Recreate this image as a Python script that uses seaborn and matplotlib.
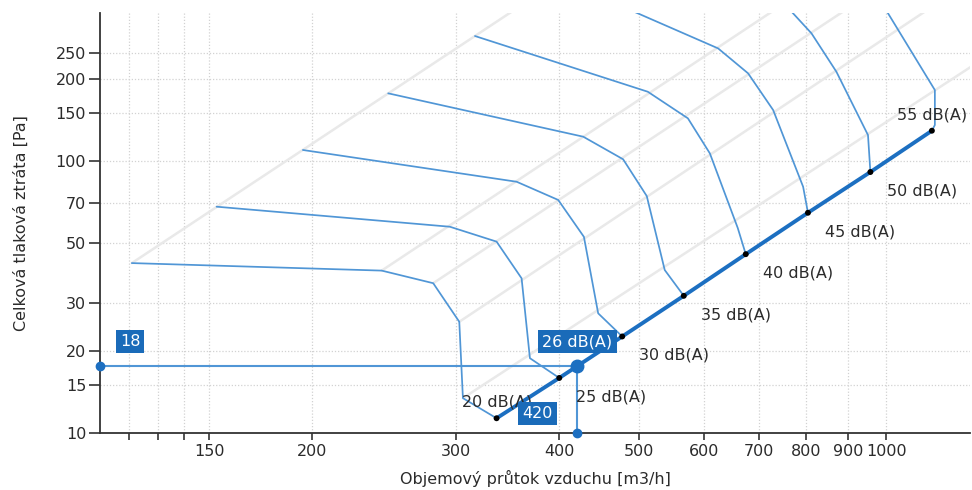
import numpy as np
import pandas as pd
import matplotlib
matplotlib.use("Agg")
import matplotlib.pyplot as plt
import seaborn as sns
from matplotlib.ticker import FixedLocator, FixedFormatter, NullLocator

# noise curves, flow [m3/h] and pressure loss [Pa]
levels = [20, 25, 30, 35, 40, 45, 50, 55]
c20_q = [120.8, 243.3, 281.1, 302.4, 305.5, 335.7]
c20_p = [42.1, 39.5, 35.5, 25.6, 13.4, 11.3]
c25_q = [153.2, 294.5, 335.7, 360.1, 368.6, 400.2]
c25_p = [67.9, 57.3, 50.5, 37.0, 18.8, 15.9]
c30_q = [195.1, 355.1, 399.0, 428.8, 446.3, 477.4]
c30_p = [109.8, 83.9, 71.9, 52.6, 27.5, 22.6]
c35_q = [247.8, 428.0, 478.6, 511.4, 537.8, 567.3]
c35_p = [177.5, 122.9, 101.5, 74.3, 39.7, 31.9]
c40_q = [316.0, 512.9, 573.9, 610.3, 659.9, 674.9]
c40_p = [288.5, 179.9, 143.6, 106.7, 56.7, 45.4]
c45_q = [448.4, 624.6, 679.3, 728.7, 792.6, 803.4]
c45_p = [402.4, 259.8, 210.3, 154.1, 80.4, 64.5]
c50_q = [725.7, 811.4, 870.0, 950.6, 957.0]
c50_p = [426.0, 295.1, 213.2, 124.6, 91.1]
c55_q = [966.3, 1146.5, 1146.5, 1137.0]
c55_p = [426.0, 182.5, 135.7, 129.3]

# operating points (end of each noise curve)
dot_q = [335.7, 400.2, 477.4, 567.3, 674.9, 803.4, 957.0, 1137.0]
dot_p = [11.3, 15.9, 22.6, 31.9, 45.4, 64.5, 91.1, 129.3]
dot_labels = ["20 dB(A)", "25 dB(A)", "30 dB(A)", "35 dB(A)", "40 dB(A)",
              "45 dB(A)", "50 dB(A)", "55 dB(A)"]

# grey system lines (start / end)
sys_q0 = [120.8, 243.3, 281.1, 302.4, 305.5]
sys_p0 = [42.1, 39.5, 35.5, 25.6, 13.4]
sys_q1 = [372.0, 771.0, 941.0, 1183.0, 1400.0]
sys_p1 = [400.0, 400.0, 400.0, 400.0, 270.0]

# working point
wp_q = 420
wp_p = 17.6
wp_p_label = "18"
wp_q_label = "420"
wp_noise = "26 dB(A)"

x_ticks = [110, 120, 130, 140, 150, 200, 300, 400, 500, 600, 700, 800, 900, 1000]
x_labels = ["", "", "", "", "150", "200", "300", "400", "500", "600", "700", "800", "900", "1000"]
y_ticks = [10, 15, 20, 30, 50, 70, 100, 150, 200, 250]
y_labels = ["10", "15", "20", "30", "50", "70", "100", "150", "200", "250"]

sns.set_theme(style="white")
plt.rcParams['font.family'] = ['DejaVu Sans']

curve_q = [c20_q, c25_q, c30_q, c35_q, c40_q, c45_q, c50_q, c55_q]
curve_p = [c20_p, c25_p, c30_p, c35_p, c40_p, c45_p, c50_p, c55_p]
rows = []
for lvl, qs, ps in zip(levels, curve_q, curve_p):
    for i, (q, p) in enumerate(zip(qs, ps)):
        rows.append({"level": lvl, "flow": q, "pressure": p, "order": i})
curves = pd.DataFrame(rows)

sys_rows = []
for i in range(len(sys_q0)):
    sys_rows.append({"line": i, "flow": sys_q0[i], "pressure": sys_p0[i]})
    sys_rows.append({"line": i, "flow": sys_q1[i], "pressure": sys_p1[i]})
syslines = pd.DataFrame(sys_rows)

blue = "#5096d6"
dark_blue = "#1c6fc1"
box_blue = "#1a6bb9"
txt = "#2b2b2b"

fig = plt.figure(figsize=(9.72, 4.9), dpi=100)
ax = fig.add_axes([0.1029, 0.117, 0.895, 0.856])
ax.set_xscale("log")
ax.set_yscale("log")
ax.set_xlim(110.5, 1265)
ax.set_ylim(10, 350)

sns.lineplot(data=syslines, x="flow", y="pressure", units="line", estimator=None,
             sort=False, color="#e9e9e9", lw=1.8, ax=ax, zorder=1)
sns.lineplot(data=curves, x="flow", y="pressure", units="level", estimator=None,
             sort=False, color=blue, lw=1.25, ax=ax, zorder=2)
ax.plot(dot_q, dot_p, color=dark_blue, lw=2.8, zorder=3, solid_capstyle="butt")
sns.scatterplot(x=dot_q, y=dot_p, color="black", s=18, edgecolor="none", ax=ax, zorder=5)

for i, (q, p, lab) in enumerate(zip(dot_q, dot_p, dot_labels)):
    if i == 0 or i == len(dot_q) - 1:
        off = (-35, 16)
    else:
        off = (17, -19)
    ax.annotate(lab, xy=(q, p), xytext=off, textcoords="offset pixels",
                ha="left", va="center", fontsize=11.5, color=txt, zorder=6)

# working point guides
x0 = ax.get_xlim()[0]
y0 = ax.get_ylim()[0]
ax.plot([x0, wp_q], [wp_p, wp_p], color=blue, lw=1.5, zorder=4, clip_on=False)
ax.plot([wp_q, wp_q], [wp_p, y0], color=blue, lw=1.5, zorder=4, clip_on=False)
ax.plot([x0], [wp_p], "o", ms=6, color=dark_blue, zorder=7, clip_on=False)
ax.plot([wp_q], [y0], "o", ms=6, color=dark_blue, zorder=7, clip_on=False)
ax.plot([wp_q], [wp_p], "o", ms=9, color=dark_blue, zorder=7)

box = dict(boxstyle="square,pad=0.25", fc=box_blue, ec="none")
ax.annotate(wp_p_label, xy=(x0, wp_p), xytext=(30, 24), textcoords="offset pixels",
            ha="center", va="center", fontsize=11.5, color="white", bbox=box, zorder=8)
ax.annotate(wp_noise, xy=(wp_q, wp_p), xytext=(1, 24), textcoords="offset pixels",
            ha="center", va="center", fontsize=11.5, color="white", bbox=box, zorder=8)
ax.annotate(wp_q_label, xy=(wp_q, y0), xytext=(-39, 19), textcoords="offset pixels",
            ha="center", va="center", fontsize=11.5, color="white", bbox=box, zorder=8)

ax.xaxis.set_major_locator(FixedLocator(x_ticks))
ax.xaxis.set_major_formatter(FixedFormatter(x_labels))
ax.xaxis.set_minor_locator(NullLocator())
ax.yaxis.set_major_locator(FixedLocator(y_ticks))
ax.yaxis.set_major_formatter(FixedFormatter(y_labels))
ax.yaxis.set_minor_locator(NullLocator())

ax.grid(True, which="major", color="#d2d2d2", lw=0.9, linestyle=(0, (1, 1.5)))
ax.set_axisbelow(True)
for s in ["top", "right"]:
    ax.spines[s].set_visible(False)
for s in ["left", "bottom"]:
    ax.spines[s].set_color("#333333")
    ax.spines[s].set_linewidth(1.3)
ax.tick_params(axis="y", length=8, width=1.2, color="#333333", pad=2, labelsize=11.5, labelcolor=txt, left=True)
ax.tick_params(axis="x", length=5, width=1.2, color="#333333", pad=3, labelsize=11.5, labelcolor=txt, bottom=True)

ax.set_xlabel("Objemový průtok vzduchu [m3/h]", fontsize=11.5, color=txt, labelpad=8)
ax.set_ylabel("Celková tlaková ztráta [Pa]", fontsize=11.5, color=txt, labelpad=19)

fig.savefig("out.png", dpi=100)
